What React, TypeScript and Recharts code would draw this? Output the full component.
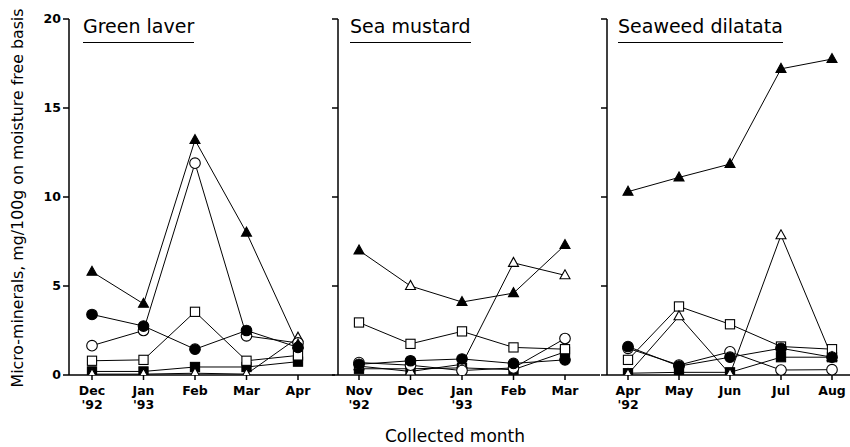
import React from "react";
import { LineChart, Line, XAxis, YAxis } from "recharts";

// month labels (two-line labels use "\n")
const greenMonths = ["Dec\n'92", "Jan\n'93", "Feb", "Mar", "Apr"];
const mustardMonths = ["Nov\n'92", "Dec", "Jan\n'93", "Feb", "Mar"];
const dilatataMonths = ["Apr\n'92", "May", "Jun", "Jul", "Aug"];

const yTicks = [0, 5, 10, 15, 20];

// Green laver
const greenFilledTri = [5.8, 4.0, 13.2, 8.0, 1.7];
const greenOpenTri = [0.05, 0.05, 0.1, 0.05, 2.1];
const greenOpenCircle = [1.65, 2.5, 11.9, 2.2, 1.8];
const greenFilledCircle = [3.4, 2.75, 1.45, 2.5, 1.55];
const greenOpenSquare = [0.8, 0.85, 3.55, 0.8, 1.1];
const greenFilledSquare = [0.2, 0.2, 0.45, 0.45, 0.75];

// Sea mustard
const mustardFilledTri = [7.0, 5.0, 4.1, 4.6, 7.3];
const mustardOpenTri = [0.5, 0.2, 0.6, 6.3, 5.6];
const mustardOpenCircle = [0.7, 0.55, 0.25, 0.4, 2.05];
const mustardFilledCircle = [0.6, 0.8, 0.9, 0.65, 0.85];
const mustardOpenSquare = [2.95, 1.75, 2.45, 1.55, 1.45];
const mustardFilledSquare = [0.35, 0.35, 0.4, 0.3, 1.3];

// Seaweed dilatata
const dilFilledTri = [10.3, 11.1, 11.85, 17.2, 17.75];
const dilOpenTri = [0.05, 3.3, 0.05, 7.85, 1.0];
const dilOpenSquare = [0.85, 3.85, 2.85, 1.6, 1.45];
const dilFilledCircle = [1.6, 0.5, 1.0, 1.5, 1.0];
const dilOpenCircle = [1.5, 0.56, 1.3, 0.28, 0.3];
const dilFilledSquare = [0.1, 0.15, 0.15, 1.0, 1.0];

const FONT = "'DejaVu Sans', sans-serif";

type Shape = "tri" | "circle" | "square";

function marker(shape: Shape, filled: boolean, openAt: number[] = []) {
  return (props: any) => {
    const { cx, cy, index } = props;
    if (cx == null || cy == null) return <g key={`m${index}`} />;
    const fill = filled && !openAt.includes(index) ? "#000" : "#fff";
    const common = { fill, stroke: "#000", strokeWidth: 1.1 };
    if (shape === "tri") {
      return (
        <polygon
          key={`m${index}`}
          points={`${cx},${cy - 5.5} ${cx - 5},${cy + 3.5} ${cx + 5},${cy + 3.5}`}
          {...common}
        />
      );
    }
    if (shape === "circle") {
      return <circle key={`m${index}`} cx={cx} cy={cy} r={5.3} {...common} />;
    }
    return <rect key={`m${index}`} x={cx - 4.6} y={cy - 4.6} width={9.2} height={9.2} {...common} />;
  };
}

const MonthTick = (props: any) => {
  const { x, y, payload } = props;
  const lines = String(payload.value).split("\n");
  return (
    <text x={x} y={y} textAnchor="middle" fontFamily={FONT} fontWeight="bold" fontSize={12.5} fill="#000">
      {lines.map((l, i) => (
        <tspan key={i} x={x} dy={i === 0 ? 13 : 14}>
          {l}
        </tspan>
      ))}
    </text>
  );
};

interface PanelProps {
  months: string[];
  filledTri: number[];
  openTri: number[];
  openCircle: number[];
  filledCircle: number[];
  openSquare: number[];
  filledSquare: number[];
  left: number;
  width: number;
  yWidth: number;
  padL: number;
  padR: number;
  showLabels: boolean;
  openTriMarks?: number[];
}

function Panel(p: PanelProps) {
  const data = p.months.map((m, i) => ({
    month: m,
    filledTri: p.filledTri[i],
    openTri: p.openTri[i],
    openCircle: p.openCircle[i],
    filledCircle: p.filledCircle[i],
    openSquare: p.openSquare[i],
    filledSquare: p.filledSquare[i],
  }));
  const lineProps = { type: "linear" as const, stroke: "#000", strokeWidth: 1, isAnimationActive: false, activeDot: false };
  return (
    <div style={{ position: "absolute", left: p.left, top: 0 }}>
      <LineChart width={p.width} height={447} data={data} margin={{ top: 19, right: 0, bottom: 0, left: 0 }}>
        <XAxis
          dataKey="month"
          height={72}
          padding={{ left: p.padL, right: p.padR }}
          stroke="#000"
          strokeWidth={1.5}
          tickSize={5}
          tick={<MonthTick />}
          interval={0}
        />
        <YAxis
          width={p.yWidth}
          domain={[0, 20]}
          ticks={yTicks}
          stroke="#000"
          strokeWidth={1.5}
          tickSize={6}
          tickFormatter={(v: number) => (p.showLabels ? String(v) : "")}
          tick={{ fill: "#000", fontFamily: FONT, fontWeight: "bold", fontSize: 12.5 }}
          allowDataOverflow
        />
        <Line dataKey="filledSquare" {...lineProps} dot={marker("square", true)} />
        <Line dataKey="openSquare" {...lineProps} dot={marker("square", false)} />
        <Line dataKey="openTri" {...lineProps} dot={marker("tri", false)} />
        <Line dataKey="openCircle" {...lineProps} dot={marker("circle", false)} />
        <Line dataKey="filledCircle" {...lineProps} dot={marker("circle", true)} />
        <Line dataKey="filledTri" {...lineProps} dot={marker("tri", true, p.openTriMarks || [])} />
      </LineChart>
    </div>
  );
}

const titleStyle: React.CSSProperties = {
  position: "absolute",
  top: 15,
  fontFamily: FONT,
  fontSize: 19,
  lineHeight: "22px",
  paddingBottom: 5,
  borderBottom: "1.5px solid #000",
  whiteSpace: "nowrap",
  color: "#000",
};

export default function App() {
  return (
    <div style={{ position: "absolute", left: 0, top: 0, width: 850, height: 447, background: "#fff", overflow: "hidden" }}>
      <Panel
        months={greenMonths}
        filledTri={greenFilledTri}
        openTri={greenOpenTri}
        openCircle={greenOpenCircle}
        filledCircle={greenFilledCircle}
        openSquare={greenOpenSquare}
        filledSquare={greenFilledSquare}
        left={0}
        width={335}
        yWidth={69}
        padL={23}
        padR={37}
        showLabels
      />
      <Panel
        months={mustardMonths}
        filledTri={mustardFilledTri}
        openTri={mustardOpenTri}
        openCircle={mustardOpenCircle}
        filledCircle={mustardFilledCircle}
        openSquare={mustardOpenSquare}
        filledSquare={mustardFilledSquare}
        left={300}
        width={300}
        yWidth={38}
        padL={21}
        padR={35}
        showLabels={false}
        openTriMarks={[1]}
      />
      <Panel
        months={dilatataMonths}
        filledTri={dilFilledTri}
        openTri={dilOpenTri}
        openCircle={dilOpenCircle}
        filledCircle={dilFilledCircle}
        openSquare={dilOpenSquare}
        filledSquare={dilFilledSquare}
        left={570}
        width={280}
        yWidth={37}
        padL={21}
        padR={18}
        showLabels={false}
      />
      <div style={{ ...titleStyle, left: 83 }}>Green laver</div>
      <div style={{ ...titleStyle, left: 350 }}>Sea mustard</div>
      <div style={{ ...titleStyle, left: 618 }}>Seaweed dilatata</div>
      <div
        style={{
          position: "absolute",
          left: 17,
          top: 198,
          transform: "translate(-50%, -50%) rotate(-90deg)",
          fontFamily: FONT,
          fontSize: 15.8,
          whiteSpace: "nowrap",
          color: "#000",
        }}
      >
        Micro-minerals, mg/100g on moisture free basis
      </div>
      <div
        style={{
          position: "absolute",
          left: 455,
          top: 436,
          transform: "translate(-50%, -50%)",
          fontFamily: FONT,
          fontSize: 17,
          whiteSpace: "nowrap",
          color: "#000",
        }}
      >
        Collected month
      </div>
    </div>
  );
}
